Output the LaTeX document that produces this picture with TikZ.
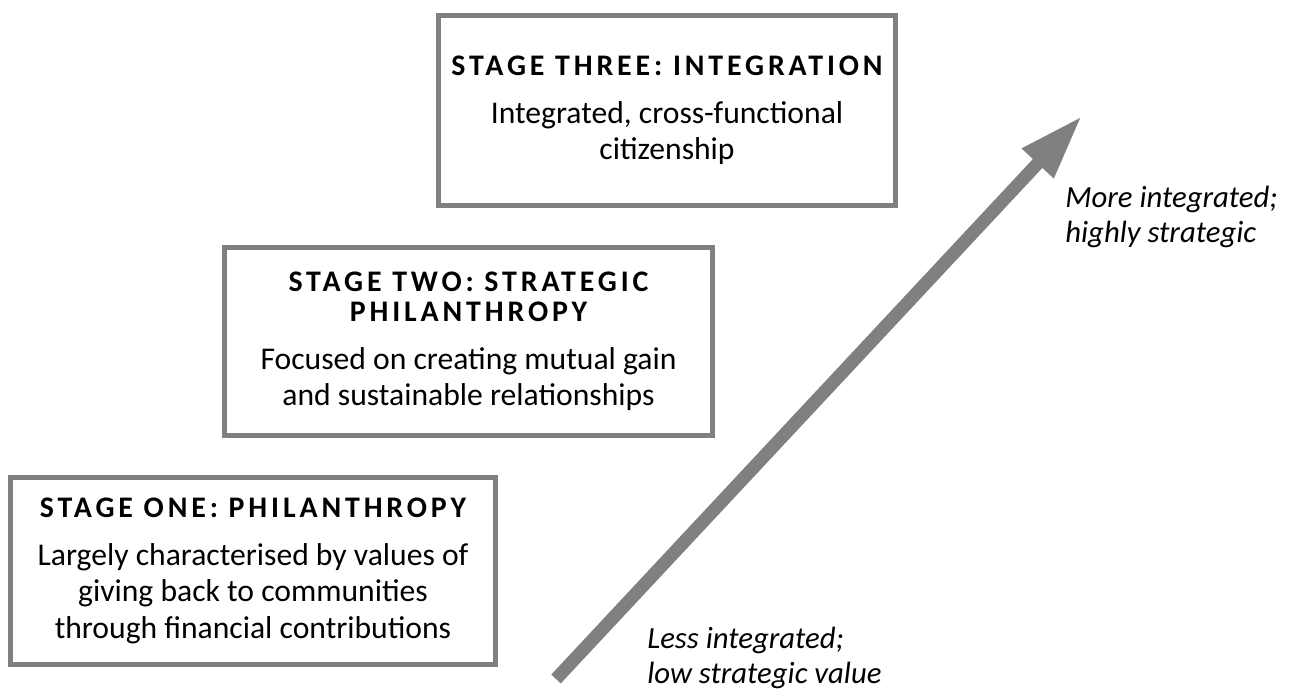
\documentclass[tikz,border=0pt]{standalone}
\usepackage{fontspec}
\setmainfont{Carlito}
\newfontfamily\titlefont[LetterSpace=13]{Carlito}
\usetikzlibrary{arrows.meta,positioning}
\definecolor{framegray}{RGB}{128,128,128}
\newcommand{\stagehead}[1]{{\titlefont\bfseries\fontsize{17}{17}\selectfont #1}}
\tikzstyle{stagebox} = [draw=framegray, line width=0.1cm, rectangle, align=center, inner sep=0pt, font=\fontsize{18}{20.7}\selectfont]
\tikzstyle{bigarrow} = [draw=framegray, line width=0.26cm, -{Triangle[length=1.3cm,width=0.8cm]}]
\tikzstyle{note} = [anchor=north west, align=left, inner sep=0pt, font=\fontsize{17.5}{19.9}\selectfont\itshape]

\begin{document}
\begin{tikzpicture}[x=0.02cm, y=-0.02cm]
\useasboundingbox (0,0) rectangle (1289,689);

% the three stages
\node[stagebox, minimum width=9.14cm, minimum height=3.8cm] (three) at (667,110.5)
  {\stagehead{STAGE THREE: INTEGRATION}\\[6.5pt]
   Integrated, cross-functional\\ citizenship};
\node[stagebox, minimum width=9.76cm, minimum height=3.76cm] (two) at (468.5,341.5)
  {\stagehead{STAGE TWO: STRATEGIC}\\[-3.7pt] \stagehead{PHILANTHROPY}\\[6.5pt]
   Focused on creating mutual gain\\ and sustainable relationships};
\node[stagebox, minimum width=9.7cm, minimum height=3.74cm] (one) at (253,571)
  {\stagehead{STAGE ONE: PHILANTHROPY}\\[6.5pt]
   Largely characterised by values of\\ giving back to communities\\ through financial contributions};

% rising arrow
\coordinate (low) at (556,679);
\coordinate (high) at (1082,116);
\draw[bigarrow] (low) -- (high);

\node[note] (top) at (1065,186) {More integrated;\\ highly strategic};
\node[note] (bottom) at (647,627) {Less integrated;\\ low strategic value};
\end{tikzpicture}
\end{document}
